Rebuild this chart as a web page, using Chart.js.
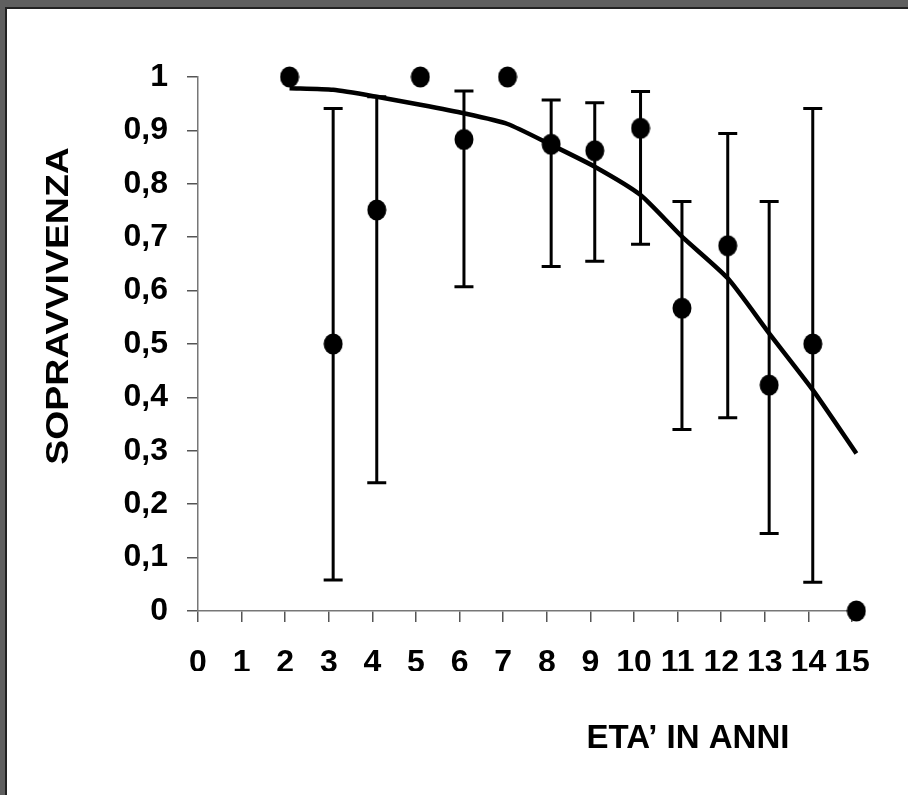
<!DOCTYPE html>
<html lang="it">
<head>
    <meta charset="UTF-8">
    <title>Sopravvivenza per età</title>
    <script src="https://cdn.jsdelivr.net/npm/chart.js"></script>
    <style>
        body { margin: 0; background: #5f5f5f; }
        #frame {
            position: absolute; left: 5px; top: 7px; right: 0; bottom: 0;
            background: #fff; border-left: 2px solid #222; border-top: 2px solid #222;
        }
        #myChart { position: absolute; left: 0; top: 0; }
    </style>
</head>
<body>
    <div id="frame"></div>
    <canvas id="myChart" width="908" height="795"></canvas>
    <script>
        // età (anni) come sono piazzate nel grafico originale
        const ages = [2.1, 3.1, 4.1, 5.1, 6.1, 7.1, 8.1, 9.1, 10.15, 11.1, 12.15, 13.1, 14.1, 15.1];
        // sopravvivenza osservata
        const survival = [1, 0.5, 0.751, 1, 0.883, 1, 0.874, 0.862, 0.904, 0.567, 0.684, 0.423, 0.5, 0];
        // intervalli di confidenza (null = nessuna barra)
        const errHigh = [null, 0.941, 0.963, null, 0.974, null, 0.957, 0.952, 0.973, 0.767, 0.894, 0.767, 0.941, null];
        const errLow = [null, 0.058, 0.24, null, 0.607, null, 0.645, 0.655, 0.687, 0.34, 0.362, 0.145, 0.054, null];
        // curva stimata
        const fitted = [0.979, 0.976, 0.963, 0.948, 0.932, 0.912, 0.873, 0.832, 0.779, 0.701, 0.623, 0.52, 0.414, 0.295];

        const xTitle = 'ETA\u2019 IN ANNI';
        const yTitle = 'SOPRAVVIVENZA';
        const font = '"Liberation Sans", Arial, sans-serif';

        // punto leggermente ovale come nell'originale
        const dot = document.createElement('canvas');
        dot.width = 20; dot.height = 22;
        const dctx = dot.getContext('2d');
        dctx.fillStyle = '#000';
        dctx.beginPath();
        dctx.ellipse(10, 11, 9.5, 10.5, 0, 0, Math.PI * 2);
        dctx.fill();

        const errorBars = {
            id: 'errorBars',
            beforeDatasetsDraw(chart) {
                const { ctx, scales: { x, y } } = chart;
                ctx.save();
                ctx.strokeStyle = '#000';
                ctx.lineWidth = 3;
                ages.forEach((a, i) => {
                    if (errHigh[i] == null) return;
                    const px = x.getPixelForValue(a);
                    const top = y.getPixelForValue(errHigh[i]);
                    const bot = y.getPixelForValue(errLow[i]);
                    ctx.beginPath();
                    ctx.moveTo(px, top); ctx.lineTo(px, bot);
                    ctx.moveTo(px - 9.5, top); ctx.lineTo(px + 9.5, top);
                    ctx.moveTo(px - 9.5, bot); ctx.lineTo(px + 9.5, bot);
                    ctx.stroke();
                });
                ctx.restore();
            }
        };

        // titoli degli assi, disegnati a mano per rispettare la posizione dell'originale
        const axisTitles = {
            id: 'axisTitles',
            afterDraw(chart) {
                const ctx = chart.ctx;
                ctx.save();
                ctx.fillStyle = '#000';
                ctx.font = 'bold 33px ' + font;
                ctx.textAlign = 'center';
                ctx.textBaseline = 'alphabetic';
                ctx.fillText(xTitle, 688, 748);

                ctx.translate(68, 306);
                ctx.rotate(-Math.PI / 2);
                ctx.scale(1.17, 1);
                ctx.font = 'bold 32px ' + font;
                ctx.fillText(yTitle, 0, 0);
                ctx.restore();
            }
        };

        const ctx = document.getElementById('myChart').getContext('2d');
        const chart = new Chart(ctx, {
            type: 'scatter',
            data: {
                datasets: [
                    {
                        label: 'Sopravvivenza osservata',
                        data: ages.map((a, i) => ({ x: a, y: survival[i] })),
                        backgroundColor: '#000',
                        borderColor: '#000',
                        pointStyle: dot,
                        pointRadius: 10,
                        pointHoverRadius: 10,
                        clip: false
                    },
                    {
                        type: 'line',
                        label: 'Stima',
                        data: ages.map((a, i) => ({ x: a, y: fitted[i] })),
                        borderColor: '#000',
                        borderWidth: 4.5,
                        pointRadius: 0,
                        tension: 0.2,
                        fill: false,
                        clip: false
                    }
                ]
            },
            options: {
                responsive: false,
                animation: false,
                devicePixelRatio: 1,
                layout: { padding: { left: 0, top: 77, right: 56, bottom: 124 } },
                plugins: {
                    legend: { display: false },
                    tooltip: { enabled: false }
                },
                scales: {
                    x: {
                        type: 'linear',
                        min: 0,
                        max: 15,
                        afterFit: (s) => { s.height = 60; },
                        border: { color: '#777', width: 1.5 },
                        grid: { drawOnChartArea: false, color: '#555', tickLength: 11, lineWidth: 1.5 },
                        ticks: {
                            stepSize: 1,
                            autoSkip: false,
                            maxRotation: 0,
                            padding: 22,
                            color: '#000',
                            font: { family: font, size: 32, weight: 'bold' }
                        }
                    },
                    y: {
                        min: 0,
                        max: 1,
                        afterFit: (s) => { s.width = 198; },
                        border: { color: '#777', width: 1.5 },
                        grid: { drawOnChartArea: false, color: '#555', tickLength: 11, lineWidth: 1.5 },
                        ticks: {
                            stepSize: 0.1,
                            padding: 19,
                            color: '#000',
                            font: { family: font, size: 32, weight: 'bold' },
                            callback: (v) => {
                                const r = Math.round(v * 10) / 10;
                                return (r === 0 || r === 1) ? String(r) : r.toFixed(1).replace('.', ',');
                            }
                        }
                    }
                }
            },
            plugins: [errorBars, axisTitles]
        });
    </script>
</body>
</html>
